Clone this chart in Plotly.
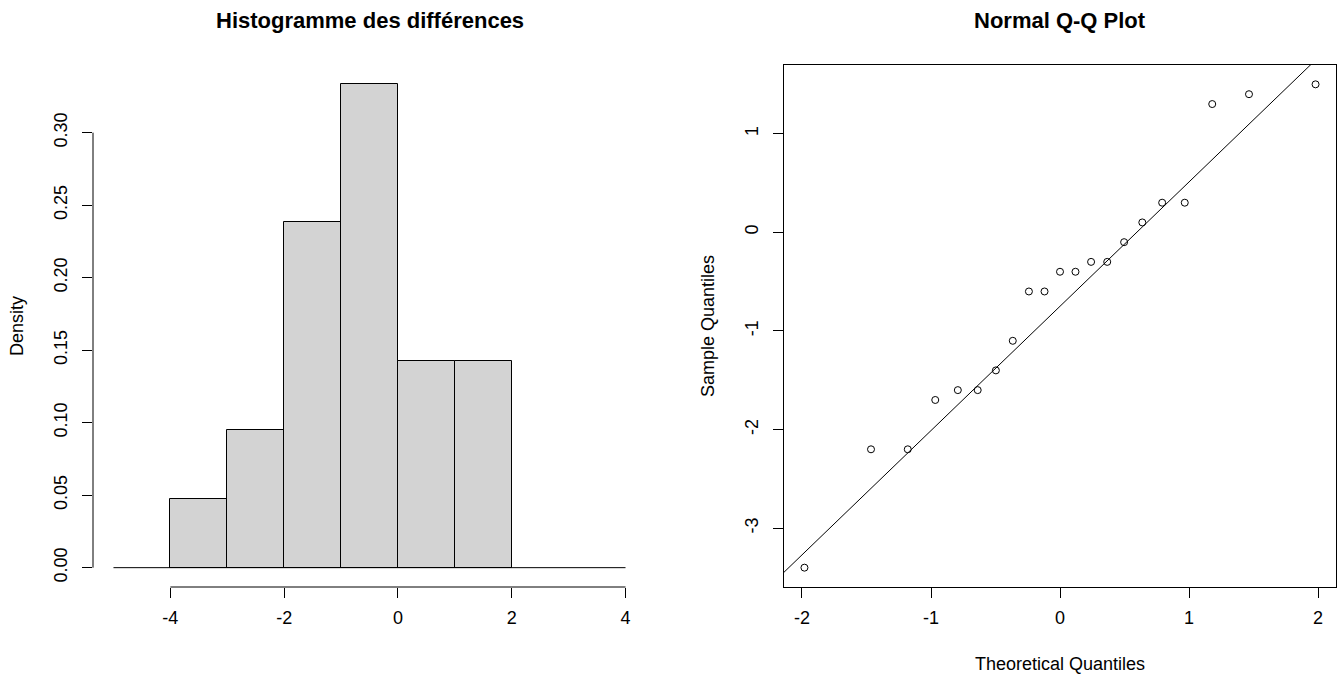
import numpy as np
import plotly.graph_objects as go

# ---- data ----
differences = [-3.4, -2.2, -2.2, -1.7, -1.6, -1.6, -1.4, -1.1, -0.6, -0.6,
               -0.4, -0.4, -0.3, -0.3, -0.1, 0.1, 0.3, 0.3, 1.3, 1.4, 1.5]
hist_breaks = [-4, -3, -2, -1, 0, 1, 2]
hist_xlim = [-5, 4]
hist_xticks = [-4, -2, 0, 2, 4]
hist_xtick_labels = ["-4", "-2", "0", "2", "4"]
hist_yticks = [0.00, 0.05, 0.10, 0.15, 0.20, 0.25, 0.30]
hist_ytick_labels = ["0.00", "0.05", "0.10", "0.15", "0.20", "0.25", "0.30"]

# theoretical normal quantiles for n = 21 (ppoints)
theoretical = [-1.981, -1.465, -1.180, -0.967, -0.792, -0.638, -0.497, -0.366,
               -0.241, -0.120, 0.000, 0.120, 0.241, 0.366, 0.497, 0.638,
               0.792, 0.967, 1.180, 1.465, 1.981]
normal_q75 = 0.6745
qq_xticks = [-2, -1, 0, 1, 2]
qq_xtick_labels = ["-2", "-1", "0", "1", "2"]
qq_yticks = [-3, -2, -1, 0, 1]
qq_ytick_labels = ["-3", "-2", "-1", "0", "1"]

title_left = "Histogramme des différences"
title_right = "Normal Q-Q Plot"
ylab_left = "Density"
xlab_right = "Theoretical Quantiles"
ylab_right = "Sample Quantiles"

# ---- layout geometry (pixels) ----
W, H = 1337, 676
L1, R1 = 93, 646
L2, R2 = 784, 1336
TOP, BOT = 65, 587
FONT = "Liberation Sans, Arial, sans-serif"


def ext(lo, hi, f=0.04):
    d = (hi - lo) * f
    return [lo - d, hi + d]


density, edges = np.histogram(differences, bins=hist_breaks, density=True)
centers = (edges[:-1] + edges[1:]) / 2
widths = np.diff(edges)

y_sorted = np.sort(differences)
q1, q3 = np.quantile(y_sorted, [0.25, 0.75])
slope = (q3 - q1) / (2 * normal_q75)
intercept = q1 + slope * normal_q75

qq_xrange = ext(min(theoretical), max(theoretical))
qq_yrange = ext(min(differences), max(differences))
hist_xrange = ext(*hist_xlim)
hist_yrange = ext(0, float(density.max()))

fig = go.Figure()

fig.add_trace(go.Bar(
    x=centers, y=density, width=widths,
    marker=dict(color="#D3D3D3", line=dict(color="black", width=1)),
    xaxis="x", yaxis="y", showlegend=False, hoverinfo="x+y"))

fig.add_trace(go.Scatter(
    x=hist_xlim, y=[0, 0], mode="lines",
    line=dict(color="black", width=1),
    xaxis="x", yaxis="y", showlegend=False, hoverinfo="skip"))

fig.add_trace(go.Scatter(
    x=theoretical, y=list(y_sorted), mode="markers",
    marker=dict(symbol="circle-open", size=7, color="black",
                line=dict(color="black", width=1)),
    xaxis="x2", yaxis="y2", showlegend=False))

lx = np.array(qq_xrange)
fig.add_trace(go.Scatter(
    x=lx, y=intercept + slope * lx, mode="lines",
    line=dict(color="black", width=1),
    xaxis="x2", yaxis="y2", showlegend=False, hoverinfo="skip"))

tickfont = dict(family=FONT, size=18, color="black")
ydom = [1 - BOT / H, 1 - TOP / H]
common = dict(ticks="outside", ticklen=10, tickwidth=1, tickcolor="black",
              showgrid=False, zeroline=False, tickfont=tickfont)

fig.update_layout(
    width=W, height=H,
    margin=dict(l=0, r=0, t=0, b=0),
    paper_bgcolor="white", plot_bgcolor="white",
    bargap=0,
    xaxis=dict(domain=[L1 / W, R1 / W], range=hist_xrange, anchor="y",
               tickvals=hist_xticks, ticktext=hist_xtick_labels,
               ticklabelstandoff=4, showline=False, **common),
    yaxis=dict(domain=ydom, range=hist_yrange, anchor="x",
               tickvals=hist_yticks, ticktext=hist_ytick_labels,
               tickangle=-90, ticklabelstandoff=8, showline=False, **common),
    xaxis2=dict(domain=[L2 / W, R2 / W], range=qq_xrange, anchor="y2",
                tickvals=qq_xticks, ticktext=qq_xtick_labels,
                ticklabelstandoff=4, showline=True, mirror=True,
                linecolor="black", linewidth=1, **common),
    yaxis2=dict(domain=ydom, range=qq_yrange, anchor="x2",
                tickvals=qq_yticks, ticktext=qq_ytick_labels,
                tickangle=-90, ticklabelstandoff=8, showline=True, mirror=True,
                linecolor="black", linewidth=1, **common),
    shapes=[
        dict(type="line", xref="x", yref="y domain",
             x0=hist_xticks[0], x1=hist_xticks[-1], y0=0, y1=0,
             line=dict(color="black", width=1)),
        dict(type="line", xref="x domain", yref="y",
             x0=0, x1=0, y0=hist_yticks[0], y1=hist_yticks[-1],
             line=dict(color="black", width=1)),
    ],
    annotations=[
        dict(text="<b>%s</b>" % title_left, xref="paper", yref="paper",
             x=(L1 + R1) / 2 / W, y=1 - 20 / H, showarrow=False,
             xanchor="center", yanchor="middle",
             font=dict(family=FONT, size=22, color="black")),
        dict(text="<b>%s</b>" % title_right, xref="paper", yref="paper",
             x=(L2 + R2) / 2 / W, y=1 - 20 / H, showarrow=False,
             xanchor="center", yanchor="middle",
             font=dict(family=FONT, size=22, color="black")),
        dict(text=ylab_left, xref="paper", yref="paper",
             x=17 / W, y=1 - (TOP + BOT) / 2 / H, showarrow=False,
             textangle=-90, xanchor="center", yanchor="middle",
             font=dict(family=FONT, size=18, color="black")),
        dict(text=ylab_right, xref="paper", yref="paper",
             x=708 / W, y=1 - (TOP + BOT) / 2 / H, showarrow=False,
             textangle=-90, xanchor="center", yanchor="middle",
             font=dict(family=FONT, size=18, color="black")),
        dict(text=xlab_right, xref="paper", yref="paper",
             x=(L2 + R2) / 2 / W, y=1 - 664 / H, showarrow=False,
             xanchor="center", yanchor="middle",
             font=dict(family=FONT, size=18, color="black")),
    ],
)

fig.write_html("out.html",
               config={"displayModeBar": False},
               post_script="document.body.style.margin='0';"
                           "document.body.style.overflow='hidden';")
